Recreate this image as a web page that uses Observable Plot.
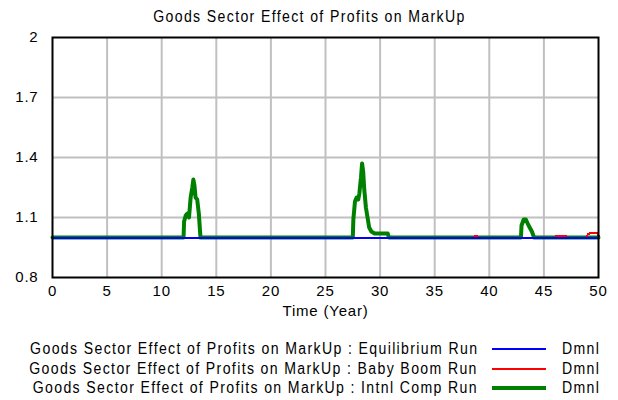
<!DOCTYPE html>
<html>
<head>
<meta charset="utf-8">
<script src="https://cdn.jsdelivr.net/npm/d3@7"></script>
<script src="https://cdn.jsdelivr.net/npm/@observablehq/plot@0.6"></script>
<style>
  body { margin: 0; background: #fff; font-family: "Liberation Sans", Arial, sans-serif; }
  #wrap { position: relative; width: 618px; height: 400px; }
  #title { position: absolute; top: 7px; left: 0; width: 618px; text-align: center; font-size: 16px; line-height: 19px; letter-spacing: 1.55px; color: #000; transform: scaleX(0.88); transform-origin: 313px 0; z-index: 2; }
  #chart { position: absolute; top: 20px; left: 0; }
  #chart svg text { letter-spacing: 0.8px; }
  .leg { position: absolute; left: 0; width: 618px; height: 19px; font-size: 16px; line-height: 19px; }
  .leg .lab { position: absolute; right: 140px; top: 0; white-space: nowrap; letter-spacing: 1.55px; transform: scaleX(0.88); transform-origin: 100% 0; }
  .leg .sw { position: absolute; left: 492px; width: 54px; }
  .leg .unit { position: absolute; left: 562px; top: 0; letter-spacing: 1.55px; transform: scaleX(0.88); transform-origin: 0 0; }
</style>
</head>
<body>
<div id="wrap">
  <div id="chart"></div>
  <div id="title">Goods Sector Effect of Profits on MarkUp</div>
  <div id="legend"></div>
</div>
<script>
const title = "Goods Sector Effect of Profits on MarkUp";
const xTicks = [0, 5, 10, 15, 20, 25, 30, 35, 40, 45, 50];
const yTicks = [0.8, 1.1, 1.4, 1.7, 2];

const eqTime = [0, 50];
const eqValue = [1, 1];

const bbTime = [0, 38.6, 38.65, 38.9, 38.95, 46.05, 46.1, 47.0, 47.05, 48.9, 49.05, 49.3, 49.85, 50];
const bbValue = [1, 1, 1.008, 1.008, 1, 1, 1.01, 1.01, 1, 1, 1.018, 1.022, 1.022, 1.01];

const icTime = [0, 12.0, 12.05, 12.2, 12.35, 12.5, 12.65, 12.8, 12.9, 13.0, 13.1, 13.25, 13.4, 13.55,
  27.5, 27.55, 27.7, 27.85, 28.0, 28.1, 28.25, 28.35, 28.45, 28.55, 28.7, 28.85, 29.0, 29.2, 29.5, 30.7, 30.8,
  42.9, 42.95, 43.15, 43.35, 43.6, 43.9, 44.1, 50];
const icValue = [1, 1, 1.08, 1.11, 1.12, 1.10, 1.2, 1.25, 1.29, 1.26, 1.2, 1.19, 1.12, 1.0,
  1.0, 1.09, 1.18, 1.2, 1.19, 1.22, 1.3, 1.37, 1.33, 1.24, 1.15, 1.1, 1.05, 1.03, 1.02, 1.02, 1.0,
  1.0, 1.06, 1.09, 1.09, 1.06, 1.03, 1.0, 1];

const seriesNames = [
  "Goods Sector Effect of Profits on MarkUp : Equilibrium Run",
  "Goods Sector Effect of Profits on MarkUp : Baby Boom Run",
  "Goods Sector Effect of Profits on MarkUp : Intnl Comp Run"
];
const seriesColors = ["#0000ff", "#ff0000", "#008000"];
const seriesWidths = [2, 2, 4];
const unit = "Dmnl";

const toRows = (ts, vs) => ts.map((t, i) => ({t, v: vs[i]}));
const eq = toRows(eqTime, eqValue);
const bb = toRows(bbTime, bbValue);
const ic = toRows(icTime, icValue);

const fmt = d => String(d);
const plot = Plot.plot({
  width: 618,
  height: 310,
  marginLeft: 52,
  marginRight: 20,
  marginTop: 17,
  marginBottom: 53,
  style: { fontFamily: "Liberation Sans, Arial, sans-serif", fontSize: "15px", color: "#000", background: "transparent" },
  x: { domain: [0, 50], label: null },
  y: { domain: [0.8, 2], label: null },
  marks: [
    Plot.gridX(xTicks.slice(1, -1), { stroke: "#c0c0c0", strokeOpacity: 1, strokeWidth: 2 }),
    Plot.gridY(yTicks.slice(1, -1), { stroke: "#c0c0c0", strokeOpacity: 1, strokeWidth: 2 }),
    Plot.axisX(xTicks, { tickSize: 0, tickPadding: 8, fontSize: 15, tickFormat: fmt }),
    Plot.axisY(yTicks, { tickSize: 0, tickPadding: 14, fontSize: 15, tickFormat: fmt }),
    Plot.text(["Time (Year)"], { frameAnchor: "bottom", dy: 38, fontSize: 15 }),
    Plot.line(ic, { x: "t", y: "v", stroke: seriesColors[2], strokeWidth: seriesWidths[2], strokeLinejoin: "round" }),
    Plot.line(bb, { x: "t", y: "v", stroke: seriesColors[1], strokeWidth: seriesWidths[1], shapeRendering: "crispEdges" }),
    Plot.line(eq, { x: "t", y: "v", stroke: seriesColors[0], strokeWidth: seriesWidths[0], shapeRendering: "crispEdges" }),
    Plot.frame({ stroke: "#000", strokeWidth: 2 })
  ]
});
document.getElementById("chart").appendChild(plot);

const leg = document.getElementById("legend");
const tops = [339, 359, 378];
seriesNames.forEach((name, i) => {
  const row = document.createElement("div");
  row.className = "leg";
  row.style.top = tops[i] + "px";
  const lab = document.createElement("span");
  lab.className = "lab";
  lab.textContent = name;
  const sw = document.createElement("span");
  sw.className = "sw";
  sw.style.top = (10 - seriesWidths[i] / 2) + "px";
  sw.style.height = seriesWidths[i] + "px";
  sw.style.background = seriesColors[i];
  const u = document.createElement("span");
  u.className = "unit";
  u.textContent = unit;
  row.append(lab, sw, u);
  leg.appendChild(row);
});
</script>
</body>
</html>
